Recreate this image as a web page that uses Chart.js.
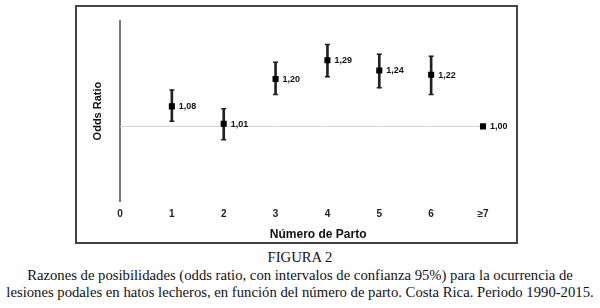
<!DOCTYPE html>
<html>
<head>
<meta charset="utf-8">
<script src="https://cdn.jsdelivr.net/npm/chart.js@4"></script>
<style>
  html, body { margin: 0; padding: 0; background: #fff; }
  body { width: 600px; height: 308px; position: relative; overflow: hidden; }
  #caja {
    position: absolute; left: 75px; top: 5px;
    width: 443px; height: 239px; box-sizing: border-box;
    border: 2px solid #444; background: #fff;
  }
  #caja canvas { display: block; }
  #leyenda {
    position: absolute; left: 0; top: 249px; width: 600px;
    text-align: center; color: #111;
    font-family: 'Liberation Serif', 'DejaVu Serif', serif;
    font-size: 14.7px; line-height: 17.7px;
  }
</style>
</head>
<body>
<div id="caja"><canvas id="grafico" width="439" height="235"></canvas></div>
<div id="leyenda">
  FIGURA 2<br>
  Razones de posibilidades (odds ratio, con intervalos de confianza 95%) para la ocurrencia de<br>
  lesiones podales en hatos lecheros, en función del número de parto. Costa Rica. Periodo 1990-2015.
</div>
<script>
// --- datos ---
const partos = ['0', '1', '2', '3', '4', '5', '6', '≥7'];
const oddsRatio = [null, 1.08, 1.01, 1.20, 1.29, 1.24, 1.22, 1.00];
const icInferior = [null, 1.02, 0.95, 1.13, 1.21, 1.16, 1.13, null];
const icSuperior = [null, 1.15, 1.07, 1.28, 1.37, 1.32, 1.31, null];
const referencia = partos.map(() => 1);

// etiquetas junto a cada punto (1,08 etc)
const etiquetasValor = {
  id: 'etiquetasValor',
  afterDatasetsDraw(chart) {
    const ctx = chart.ctx;
    const meta = chart.getDatasetMeta(4);
    ctx.save();
    ctx.font = 'bold 9px "Liberation Sans", Arial, sans-serif';
    ctx.fillStyle = '#111';
    ctx.textAlign = 'left';
    ctx.textBaseline = 'middle';
    meta.data.forEach((pt, i) => {
      const v = oddsRatio[i];
      if (v == null) return;
      ctx.fillText(v.toFixed(2).replace('.', ','), pt.x + 7, pt.y + 0.5);
    });
    ctx.restore();
  }
};

new Chart(document.getElementById('grafico'), {
  data: {
    labels: partos,
    datasets: [
      {
        type: 'line',
        data: referencia,
        borderColor: '#d0d0d0',
        borderWidth: 1,
        pointRadius: 0,
        order: 5
      },
      {
        type: 'bar',
        data: icInferior.map((lo, i) => lo == null ? null : [lo, icSuperior[i]]),
        backgroundColor: '#222',
        barThickness: 2,
        order: 4
      },
      {
        type: 'line',
        data: icInferior,
        showLine: false,
        pointStyle: 'line',
        pointRadius: 2.5,
        pointBorderColor: '#222',
        pointBorderWidth: 1.5,
        order: 3
      },
      {
        type: 'line',
        data: icSuperior,
        showLine: false,
        pointStyle: 'line',
        pointRadius: 2.5,
        pointBorderColor: '#222',
        pointBorderWidth: 1.5,
        order: 2
      },
      {
        type: 'line',
        data: oddsRatio,
        showLine: false,
        pointStyle: 'rect',
        pointRadius: 4.3,
        pointBackgroundColor: '#000',
        pointBorderWidth: 0,
        order: 1
      }
    ]
  },
  options: {
    responsive: false,
    animation: false,
    layout: { padding: { left: 14.4, right: 33, top: 14, bottom: 0 } },
    plugins: {
      legend: { display: false },
      tooltip: { enabled: false }
    },
    scales: {
      x: {
        type: 'category',
        offset: false,
        grid: { display: false, drawTicks: false },
        border: { display: false },
        ticks: {
          color: '#222',
          padding: 7,
          font: { family: 'Liberation Sans', size: 10, weight: 'bold' }
        },
        title: {
          display: true,
          // espacios delante: en el original el título va corrido a la derecha
          text: '          Número de Parto',
          color: '#111',
          padding: { top: 0.5, bottom: 0 },
          font: { family: 'Liberation Sans', size: 12, weight: 'bold' }
        }
      },
      y: {
        type: 'logarithmic',
        min: 0.75,
        max: 1.5,
        grid: { display: false, drawTicks: false },
        border: { display: true, color: '#777', width: 2 },
        ticks: { display: false },
        title: {
          display: true,
          text: 'Odds Ratio',
          color: '#111',
          padding: { top: 0, bottom: 15.4 },
          font: { family: 'Liberation Sans', size: 11, weight: 'bold' }
        }
      }
    }
  },
  plugins: [etiquetasValor]
});
</script>
</body>
</html>
